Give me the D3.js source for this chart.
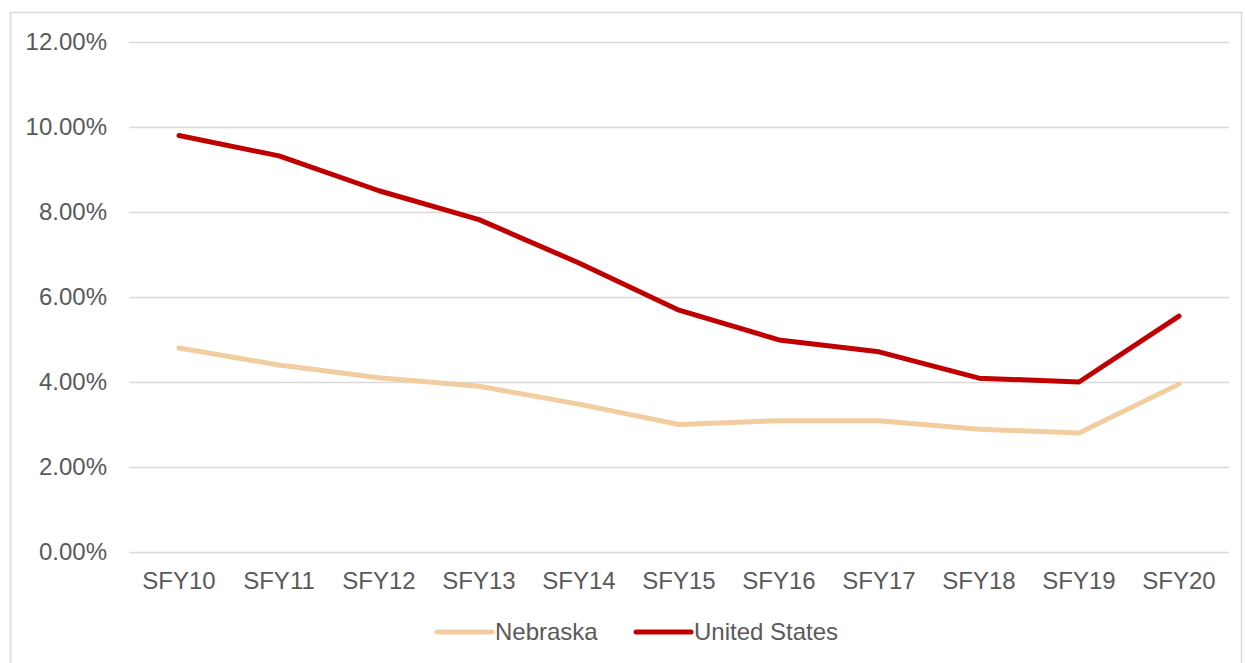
<!DOCTYPE html>
<html>
<head>
<meta charset="utf-8">
<script src="https://cdn.jsdelivr.net/npm/d3@7"></script>
<style>
  html, body { margin: 0; padding: 0; background: #fff; }
  svg { display: block; font-family: "Liberation Sans", Arial, sans-serif; }
</style>
</head>
<body>
<svg id="chart" width="1245" height="663"></svg>
<script>
const categories = ["SFY10","SFY11","SFY12","SFY13","SFY14","SFY15","SFY16","SFY17","SFY18","SFY19","SFY20"];
const nebraska = [4.80, 4.40, 4.10, 3.90, 3.48, 3.00, 3.09, 3.09, 2.89, 2.80, 3.95];
const unitedStates = [9.80, 9.32, 8.50, 7.82, 6.80, 5.69, 4.99, 4.71, 4.09, 4.00, 5.55];
const yTicks = [0, 2, 4, 6, 8, 10, 12];
const seriesNames = ["Nebraska", "United States"];
const seriesColors = ["#f2cd9f", "#c00000"];

const svg = d3.select("#chart");
const textColor = "#595959";
const gridColor = "#d9d9d9";
const fontSize = 24;

// outer border
svg.append("rect")
  .attr("x", 10.5).attr("y", 12.5)
  .attr("width", 1231).attr("height", 700)
  .attr("fill", "none").attr("stroke", gridColor).attr("stroke-width", 1.5);

const x = d3.scaleBand().domain(categories).range([129, 1229]);
const y = d3.scaleLinear().domain([0, 12]).range([552, 42]);

// gridlines
const gridAxis = d3.axisLeft(y).tickValues(yTicks).tickSize(-(1229 - 129)).tickFormat("");
const g = svg.append("g").attr("transform", "translate(129,0)").call(gridAxis);
g.select(".domain").remove();
g.selectAll("line").attr("stroke", gridColor).attr("stroke-width", 1.5);

// y labels
const yAxis = d3.axisLeft(y).tickValues(yTicks).tickSize(0).tickPadding(0)
  .tickFormat(d => d.toFixed(2) + "%");
const ya = svg.append("g").attr("transform", "translate(107,0)").call(yAxis);
ya.select(".domain").remove();
ya.selectAll("text").attr("fill", textColor).attr("font-size", fontSize)
  .attr("font-family", "Liberation Sans, Arial, sans-serif").attr("dy", "0.3em");

// x labels
const xAxis = d3.axisBottom(x).tickSize(0).tickPadding(0);
const xa = svg.append("g").attr("transform", "translate(0,566)").call(xAxis);
xa.select(".domain").remove();
xa.selectAll("text").attr("fill", textColor).attr("font-size", fontSize)
  .attr("font-family", "Liberation Sans, Arial, sans-serif").attr("dy", "0.95em");

// lines
const line = d3.line()
  .x((d, i) => x(categories[i]) + x.bandwidth() / 2)
  .y(d => y(d));

[nebraska, unitedStates].forEach((data, k) => {
  svg.append("path")
    .datum(data)
    .attr("d", line)
    .attr("fill", "none")
    .attr("stroke", seriesColors[k])
    .attr("stroke-width", 5)
    .attr("stroke-linejoin", "round")
    .attr("stroke-linecap", "round");
});

// legend
const legendX = [437, 636];
seriesNames.forEach((name, k) => {
  const lg = svg.append("g").attr("transform", `translate(${legendX[k]},632)`);
  lg.append("line").attr("x1", 0).attr("x2", 55).attr("y1", 0).attr("y2", 0)
    .attr("stroke", seriesColors[k]).attr("stroke-width", 5).attr("stroke-linecap", "round");
  lg.append("text").attr("x", 58).attr("y", 8).text(name)
    .attr("fill", textColor).attr("font-size", fontSize);
});
</script>
</body>
</html>
